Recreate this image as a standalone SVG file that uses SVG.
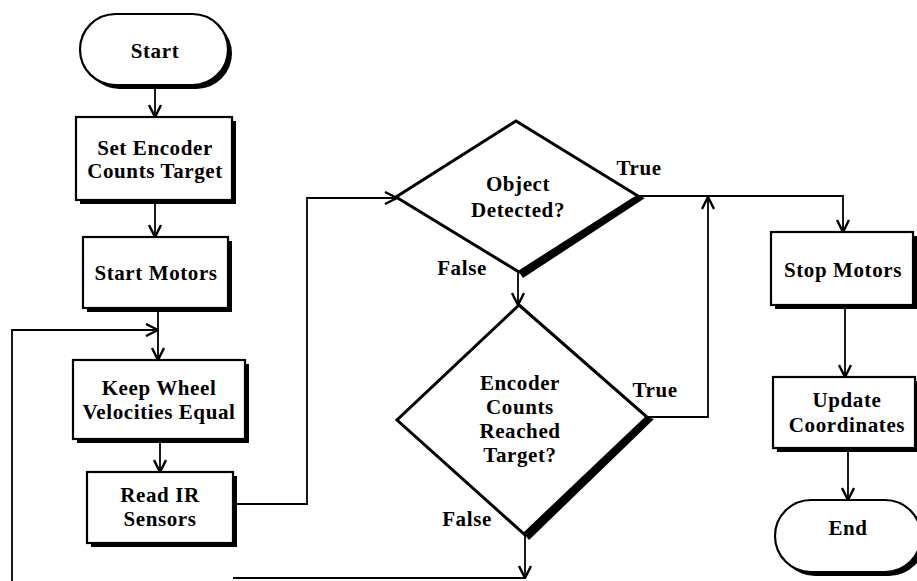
<svg xmlns="http://www.w3.org/2000/svg" width="917" height="581" viewBox="0 0 917 581">
<defs>
<style>
.box{fill:#fff;stroke:#000;stroke-width:2.2}
.sh{fill:#000}
.dia{fill:#fff;stroke:#000;stroke-width:3}
.t{font-family:"Liberation Serif","Times New Roman",serif;font-weight:bold;font-size:21px;letter-spacing:0.6px;text-anchor:middle;fill:#000}
.c{fill:none;stroke:#000;stroke-width:1.8}
</style>
<marker id="ah" viewBox="0 0 14 14" refX="13" refY="7" markerWidth="14" markerHeight="14" markerUnits="userSpaceOnUse" orient="auto">
<path d="M1,1 L13,7 L1,13" fill="none" stroke="#000" stroke-width="2.4"/>
</marker>
</defs>
<rect width="917" height="581" fill="#fff"/>

<g id="connectors">
<line class="c" x1="155" y1="85" x2="155" y2="117" marker-end="url(#ah)"/>
<line class="c" x1="155" y1="200" x2="155" y2="237" marker-end="url(#ah)"/>
<line class="c" x1="158" y1="308" x2="158" y2="360" marker-end="url(#ah)"/>
<polyline class="c" points="12,581 12,330 158,330" marker-end="url(#ah)"/>
<line class="c" x1="160" y1="439" x2="160" y2="472" marker-end="url(#ah)"/>
<polyline class="c" points="233,504 307,504 307,198 397,198" marker-end="url(#ah)"/>
<line class="c" x1="518" y1="272" x2="518" y2="305" marker-end="url(#ah)"/>
<polyline class="c" points="638,196 843,196 843,232" marker-end="url(#ah)"/>
<polyline class="c" points="647,417 708,417 708,197" marker-end="url(#ah)"/>
<line class="c" x1="845" y1="305" x2="845" y2="377" marker-end="url(#ah)"/>
<line class="c" x1="848" y1="448" x2="848" y2="500" marker-end="url(#ah)"/>
<line class="c" x1="525" y1="533" x2="525" y2="578" marker-end="url(#ah)"/>
<line class="c" x1="233" y1="578" x2="525" y2="578"/>
<text class="t" x="639" y="175">True</text>
<text class="t" x="462" y="275">False</text>
<text class="t" x="655" y="397">True</text>
<text class="t" x="467" y="526">False</text>
</g>

<g id="start">
<rect class="sh" x="84" y="18" width="148" height="71" rx="35.5"/>
<rect class="box" x="80" y="14" width="148" height="71" rx="35.5"/>
<text class="t" x="155" y="58">Start</text>
</g>

<g id="set-encoder">
<rect class="sh" x="80" y="121" width="156" height="83"/>
<rect class="box" x="76" y="117" width="156" height="83"/>
<text class="t" x="155" y="155">Set Encoder</text>
<text class="t" x="155" y="178">Counts Target</text>
</g>

<g id="start-motors">
<rect class="sh" x="87" y="241" width="145" height="71"/>
<rect class="box" x="83" y="237" width="145" height="71"/>
<text class="t" x="156" y="280">Start Motors</text>
</g>

<g id="keep-wheel">
<rect class="sh" x="77" y="364" width="172" height="79"/>
<rect class="box" x="73" y="360" width="172" height="79"/>
<text class="t" x="159" y="395">Keep Wheel</text>
<text class="t" x="159" y="419">Velocities Equal</text>
</g>

<g id="read-ir">
<rect class="sh" x="91" y="476" width="146" height="71"/>
<rect class="box" x="87" y="472" width="146" height="71"/>
<text class="t" x="160" y="502">Read IR</text>
<text class="t" x="160" y="526">Sensors</text>
</g>

<g id="object-detected">
<polygon class="sh" points="638,196 645,198 523,278 519,272"/>
<polygon class="dia" points="516,121 638,196 519,272 396,197"/>
<text class="t" x="518" y="191">Object</text>
<text class="t" x="518" y="217">Detected?</text>
</g>

<g id="encoder-reached">
<polygon class="sh" points="647,417 654,419 529,540 524,534"/>
<polygon class="dia" points="519,305 647,417 524,534 397,420"/>
<text class="t" x="520" y="390">Encoder</text>
<text class="t" x="520" y="414">Counts</text>
<text class="t" x="520" y="438">Reached</text>
<text class="t" x="520" y="462">Target?</text>
</g>

<g id="stop-motors">
<rect class="sh" x="775" y="236" width="142" height="73"/>
<rect class="box" x="771" y="232" width="142" height="73"/>
<text class="t" x="843" y="277">Stop Motors</text>
</g>

<g id="update-coordinates">
<rect class="sh" x="777" y="381" width="142" height="71"/>
<rect class="box" x="773" y="377" width="142" height="71"/>
<text class="t" x="847" y="407">Update</text>
<text class="t" x="847" y="432">Coordinates</text>
</g>

<g id="end">
<rect class="sh" x="779" y="504" width="146" height="72" rx="36"/>
<rect class="box" x="775" y="500" width="146" height="72" rx="36"/>
<text class="t" x="848" y="535">End</text>
</g>
</svg>
